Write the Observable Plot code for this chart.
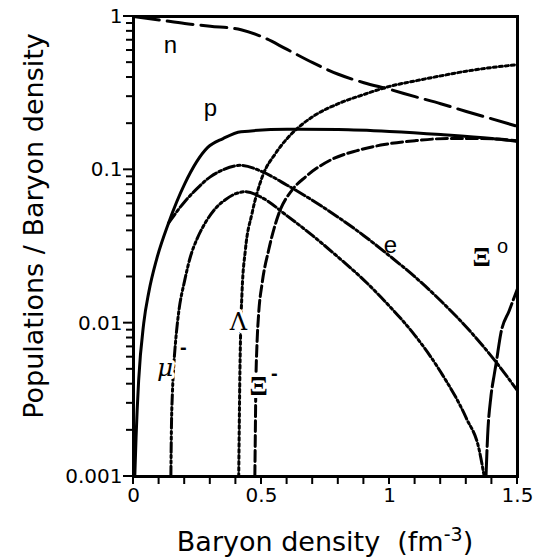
<!DOCTYPE html>
<html>
<head>
<meta charset="utf-8">
<script src="https://cdn.jsdelivr.net/npm/d3@7"></script>
<script src="https://cdn.jsdelivr.net/npm/@observablehq/plot@0.6"></script>
<style>
  html, body { margin: 0; padding: 0; background: #fff; }
</style>
</head>
<body>
<div id="chart"></div>
<script>
// ---- tick values ----
const xTicks = [0, 0.1, 0.2, 0.3, 0.4, 0.5, 0.6, 0.7, 0.8, 0.9, 1, 1.1, 1.2, 1.3, 1.4, 1.5];
const xTickLabels = [0, 0.5, 1, 1.5];
const yMajor = [0.001, 0.01, 0.1, 1];
const yMinor = [0.002, 0.003, 0.004, 0.005, 0.006, 0.007, 0.008, 0.009,
                0.02, 0.03, 0.04, 0.05, 0.06, 0.07, 0.08, 0.09,
                0.2, 0.3, 0.4, 0.5, 0.6, 0.7, 0.8, 0.9];

// ---- series: [baryon density (fm^-3), population / baryon density] ----
const nSeries = [[0, 1], [0.1, 0.95], [0.2, 0.9], [0.3, 0.865], [0.42, 0.82], [0.5, 0.74], [0.6, 0.61],
  [0.7, 0.5], [0.8, 0.42], [0.9, 0.37], [1.0, 0.335], [1.1, 0.3], [1.2, 0.27], [1.3, 0.24], [1.4, 0.215], [1.5, 0.192]];
const pSeries = [[0.005, 0.001], [0.01, 0.0018], [0.02, 0.0042], [0.04, 0.01], [0.06, 0.016], [0.09, 0.026],
  [0.137, 0.045], [0.2, 0.081], [0.29, 0.14], [0.35, 0.16], [0.42, 0.177], [0.6, 0.184], [0.8, 0.183],
  [1.0, 0.178], [1.2, 0.17], [1.4, 0.16], [1.5, 0.153]];
const eSeries = [[0.137, 0.045], [0.2, 0.062], [0.25, 0.076], [0.3, 0.09], [0.35, 0.1], [0.42, 0.107],
  [0.5, 0.0977], [0.6, 0.0794], [0.7, 0.0631], [0.8, 0.049], [0.9, 0.0372], [1.0, 0.0275], [1.1, 0.02],
  [1.2, 0.014], [1.3, 0.00944], [1.4, 0.00603], [1.5, 0.00363]];
const muSeries = [[0.146, 0.001], [0.148, 0.002], [0.152, 0.0035], [0.158, 0.0055], [0.165, 0.0078],
  [0.176, 0.0116], [0.2, 0.019], [0.222, 0.027], [0.25, 0.036], [0.28, 0.045], [0.32, 0.056], [0.36, 0.064],
  [0.4, 0.07], [0.44, 0.072], [0.5, 0.0661], [0.6, 0.0501], [0.7, 0.0372], [0.8, 0.0269], [0.9, 0.0191],
  [1.0, 0.0129], [1.1, 0.0083], [1.2, 0.0048], [1.3, 0.0024], [1.35, 0.0015], [1.37, 0.001]];
const lambdaSeries = [[0.411, 0.001], [0.413, 0.002], [0.415, 0.004], [0.418, 0.008], [0.424, 0.016],
  [0.437, 0.03], [0.463, 0.052], [0.503, 0.09], [0.555, 0.128], [0.6, 0.16], [0.646, 0.19], [0.705, 0.225],
  [0.8, 0.27], [0.9, 0.31], [1.0, 0.35], [1.1, 0.38], [1.2, 0.41], [1.3, 0.44], [1.4, 0.465], [1.5, 0.485]];
const ximSeries = [[0.474, 0.001], [0.476, 0.002], [0.478, 0.004], [0.482, 0.007], [0.489, 0.0116],
  [0.502, 0.018], [0.528, 0.03], [0.568, 0.052], [0.62, 0.074], [0.672, 0.09], [0.77, 0.116],
  [0.87, 0.133], [0.966, 0.145], [1.1, 0.155], [1.227, 0.16], [1.35, 0.16], [1.5, 0.155]];
const xi0Series = [[1.377, 0.001], [1.383, 0.0018], [1.396, 0.0033], [1.409, 0.0046], [1.416, 0.0054],
  [1.435, 0.0086], [1.468, 0.0121], [1.5, 0.0168]];

// ---- curve labels ----
const sansLabels = [
  {text: "n", x: 0.144, y: 0.65},
  {text: "p", x: 0.30, y: 0.253},
  {text: "e", x: 1.004, y: 0.0323}
];
const lambdaLabel = [{text: "Λ", x: 0.41, y: 0.0101}];
const xiLabels = [
  {text: "Ξ", x: 0.489, y: 0.0039},
  {text: "Ξ", x: 1.36, y: 0.0268}
];
const muLabel = [{text: "μ", x: 0.124, y: 0.0051}];
const supLabels = [
  {text: "-", x: 0.195, y: 0.0069},
  {text: "-", x: 0.55, y: 0.0047}
];
const supO = [{text: "o", x: 1.442, y: 0.0316}];

const lineStyle = {x: d => d[0], y: d => d[1], stroke: "black", strokeWidth: 3, curve: "monotone-x"};
const halo = {stroke: "white", fill: "white", strokeWidth: 6};
const lambdaFont = {fontSize: 24, fontFamily: "DejaVu Serif"};
const xiFont = {fontSize: 27, fontFamily: "Liberation Serif", fontWeight: "bold"};
const muFont = {fontSize: 25, fontStyle: "italic", fontFamily: "DejaVu Serif"};
const supFont = {fontSize: 20, fontWeight: "bold", fontFamily: "Liberation Sans"};

const chart = Plot.plot({
  width: 543,
  height: 558,
  marginLeft: 133,
  marginRight: 26,
  marginTop: 16,
  marginBottom: 82,
  style: {fontFamily: "DejaVu Sans", fontSize: "20px", color: "black", background: "white"},
  x: {domain: [0, 1.5]},
  y: {type: "log", domain: [0.001, 1]},
  marks: [
    Plot.line(nSeries, {...lineStyle, strokeDasharray: "26,8"}),
    Plot.line(pSeries, {...lineStyle}),
    Plot.line(eSeries, {...lineStyle, strokeDasharray: "11,3,2.5,3"}),
    Plot.line(muSeries, {...lineStyle, strokeDasharray: "10,3,2.5,3,2.5,3"}),
    Plot.line(lambdaSeries, {...lineStyle, strokeDasharray: "3,3"}),
    Plot.line(ximSeries, {...lineStyle, strokeDasharray: "11,4"}),
    Plot.line(xi0Series, {...lineStyle, strokeDasharray: "26,4"}),
    // white halos that interrupt the curves behind the labels
    Plot.text(lambdaLabel, {x: "x", y: "y", text: "text", ...lambdaFont, ...halo}),
    Plot.text(xiLabels, {x: "x", y: "y", text: "text", ...xiFont, ...halo}),
    Plot.text(muLabel, {x: "x", y: "y", text: "text", ...muFont, ...halo}),
    Plot.text(supLabels, {x: "x", y: "y", text: "text", ...supFont, ...halo, strokeWidth: 4}),
    // labels
    Plot.text(sansLabels, {x: "x", y: "y", text: "text", fontSize: 24, fontFamily: "Liberation Sans", fill: "black"}),
    Plot.text(lambdaLabel, {x: "x", y: "y", text: "text", ...lambdaFont, fill: "black"}),
    Plot.text(xiLabels, {x: "x", y: "y", text: "text", ...xiFont, fill: "black"}),
    Plot.text(muLabel, {x: "x", y: "y", text: "text", ...muFont, fill: "black"}),
    Plot.text(supLabels, {x: "x", y: "y", text: "text", ...supFont, fill: "black"}),
    Plot.text(supO, {x: "x", y: "y", text: "text", fontSize: 20, fontFamily: "Liberation Sans", fill: "black"}),
    // axes (tick labels; tick marks are drawn below from the same scales)
    Plot.axisX({ticks: xTicks, tickSize: 0, tickPadding: 11, fill: "black",
      tickFormat: d => xTickLabels.includes(d) ? String(d) : "", label: null}),
    Plot.axisY({ticks: yMajor, tickSize: 0, tickPadding: 11, fill: "black",
      tickFormat: d => String(d), label: null}),
    Plot.frame({stroke: "black", strokeWidth: 3})
  ]
});

const svg = d3.select(chart);
// mirror stroke widths into inline style so every renderer honours them
svg.selectAll("[stroke-width]").each(function () {
  this.style.strokeWidth = this.getAttribute("stroke-width") + "px";
});

// tick marks as filled rectangles, positioned with Plot's own scales
const xs = chart.scale("x"), ys = chart.scale("y");
const x0 = xs.apply(xs.domain[0]);
const yBottom = ys.apply(ys.domain[0]);
const tickLayer = svg.append("g").attr("fill", "black").attr("stroke", "none");
for (const v of xTicks) {
  const px = xs.apply(v);
  tickLayer.append("rect").attr("x", px - 1).attr("y", yBottom).attr("width", 2).attr("height", 8);
}
for (const v of yMajor) {
  const py = ys.apply(v);
  tickLayer.append("rect").attr("x", x0 - 10).attr("y", py - 1).attr("width", 10).attr("height", 2);
}
for (const v of yMinor) {
  const py = ys.apply(v);
  tickLayer.append("rect").attr("x", x0 - 7).attr("y", py - 1).attr("width", 7).attr("height", 2);
}

// x-axis title
const xt = svg.append("text")
  .attr("x", 325).attr("y", 551)
  .attr("text-anchor", "middle")
  .attr("font-family", "DejaVu Sans")
  .attr("font-size", 27)
  .attr("fill", "black");
xt.append("tspan").text("Baryon density\u00a0\u00a0(fm");
xt.append("tspan").attr("dy", -10).attr("font-size", 19).text("-3");
xt.append("tspan").attr("dy", 10).text(")");
// y-axis title
svg.append("text")
  .attr("transform", "translate(43,226) rotate(-90)")
  .attr("text-anchor", "middle")
  .attr("font-family", "DejaVu Sans")
  .attr("font-size", 27)
  .attr("fill", "black")
  .text("Populations / Baryon density");

document.getElementById("chart").appendChild(chart);
</script>
</body>
</html>
